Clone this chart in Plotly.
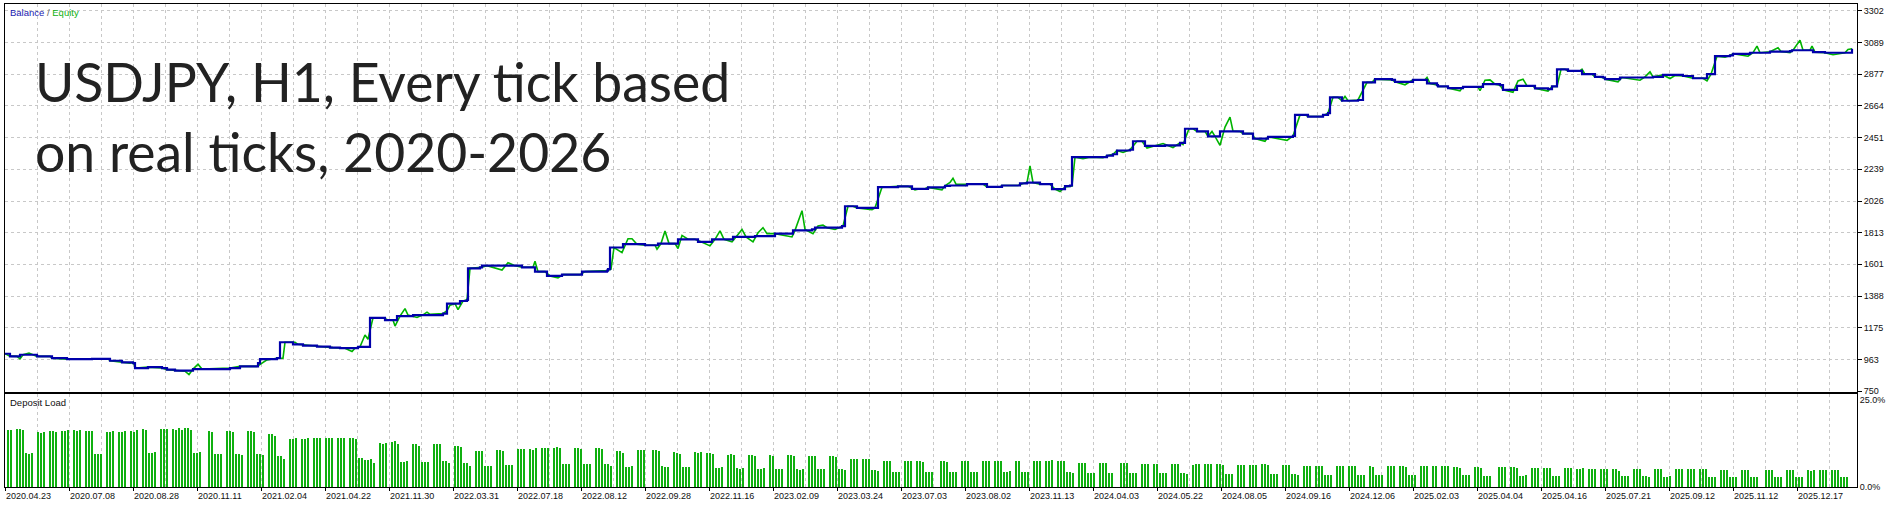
import plotly.graph_objects as go

# Strategy tester report: balance / equity and deposit load per deal

DATES = [
    "2020.04.23", "2020.07.08", "2020.08.28", "2020.11.11", "2021.02.04",
    "2021.04.22", "2021.11.30", "2022.03.31", "2022.07.18", "2022.08.12",
    "2022.09.28", "2022.11.16", "2023.02.09", "2023.03.24", "2023.07.03",
    "2023.08.02", "2023.11.13", "2024.04.03", "2024.05.22", "2024.08.05",
    "2024.09.16", "2024.12.06", "2025.02.03", "2025.04.04", "2025.04.16",
    "2025.07.21", "2025.09.12", "2025.11.12", "2025.12.17",
]

Y_TICKS = [750, 963, 1175, 1388, 1601, 1813, 2026, 2239, 2451, 2664, 2877, 3089, 3302]

BALANCE_X = [
    0, 5, 15, 32, 47, 62, 87, 105, 117, 128, 130, 143, 157, 162, 170, 188, 225, 235,
    253, 255, 272, 275, 288, 298, 312, 325, 335, 353, 365, 380, 392, 408, 438, 442,
    455, 462, 463, 475, 477, 517, 530, 542, 557, 577, 602, 603, 605, 618, 640, 653,
    673, 693, 707, 728, 750, 770, 788, 807, 810, 837, 840, 852, 873, 893, 907, 923,
    940, 945, 962, 982, 997, 1015, 1022, 1035, 1047, 1060, 1065, 1067, 1102, 1108,
    1112, 1125, 1128, 1140, 1160, 1175, 1180, 1192, 1203, 1215, 1238, 1248, 1263,
    1288, 1290, 1303, 1318, 1323, 1325, 1337, 1353, 1358, 1370, 1387, 1390, 1408,
    1422, 1432, 1433, 1443, 1458, 1478, 1495, 1498, 1512, 1530, 1543, 1547, 1552,
    1563, 1577, 1590, 1598, 1600, 1615, 1648, 1658, 1678, 1688, 1702, 1710, 1725,
    1728, 1745, 1765, 1785, 1787, 1808, 1820, 1847,
]
BALANCE_Y = [
    1001, 983, 994, 983, 971, 965, 967, 954, 943, 938, 905, 911, 905, 894, 888, 898, 905, 916,
    938, 965, 971, 1078, 1064, 1056, 1049, 1042, 1038, 1047, 1242, 1227, 1253, 1260, 1270, 1337,
    1355, 1363, 1574, 1581, 1592, 1581, 1552, 1523, 1532, 1552, 1559, 1569, 1714, 1736, 1729, 1740,
    1769, 1752, 1769, 1785, 1791, 1807, 1829, 1835, 1847, 1858, 1991, 1980, 2119, 2124, 2108, 2117,
    2128, 2130, 2139, 2121, 2130, 2144, 2150, 2139, 2106, 2126, 2130, 2320, 2330, 2340,
    2365, 2370, 2427, 2396, 2400, 2416, 2511, 2493, 2460, 2493, 2478, 2445, 2456,
    2463, 2604, 2593, 2604, 2616, 2722, 2699, 2704, 2822, 2844, 2839, 2826, 2839,
    2815, 2804, 2795, 2784, 2792, 2810, 2804, 2772, 2799, 2782, 2777, 2795, 2910,
    2899, 2877, 2859, 2855, 2844, 2855, 2859, 2872, 2865, 2850, 2877, 2998, 3003,
    3014, 3021, 3028, 3032, 3038, 3025, 3021, 3048,
]

EQUITY_X = [
    0, 5, 12, 15, 18, 24, 28, 32, 45, 47, 62, 85, 87, 103, 105, 117, 125, 128, 131, 143,
    157, 162, 170, 180, 184, 188, 193, 197, 225, 235, 252, 257, 262, 272, 278, 280, 290,
    293, 303, 315, 328, 340, 347, 350, 355, 360, 363, 368, 378, 383, 388, 390, 395, 400,
    403, 412, 418, 422, 425, 438, 442, 445, 450, 453, 458, 462, 465, 477, 482, 497, 503,
    510, 517, 528, 530, 533, 540, 545, 553, 558, 575, 580, 602, 606, 609, 617, 623, 627,
    632, 640, 650, 652, 656, 660, 664, 670, 673, 677, 683, 690, 696, 705, 710, 715, 719,
    727, 731, 737, 741, 748, 753, 758, 762, 770, 787, 790, 797, 800, 808, 813, 818, 822,
    830, 838, 843, 848, 852, 867, 870, 877, 893, 903, 910, 915, 920, 923, 937, 940, 945,
    948, 951, 962, 978, 982, 995, 997, 1013, 1018, 1022, 1025, 1028, 1035, 1045, 1050,
    1055, 1060, 1067, 1070, 1078, 1085, 1098, 1102, 1108, 1112, 1118, 1125, 1132, 1137,
    1142, 1158, 1162, 1168, 1175, 1178, 1184, 1188, 1192, 1200, 1203, 1207, 1210, 1215,
    1220, 1225, 1228, 1235, 1238, 1247, 1250, 1260, 1263, 1282, 1288, 1295, 1300, 1303,
    1317, 1323, 1328, 1333, 1337, 1340, 1343, 1353, 1362, 1367, 1370, 1387, 1390, 1400,
    1408, 1420, 1422, 1425, 1432, 1433, 1442, 1443, 1455, 1458, 1473, 1475, 1480, 1485,
    1490, 1495, 1498, 1508, 1513, 1518, 1522, 1528, 1530, 1543, 1547, 1552, 1556, 1560,
    1563, 1575, 1577, 1580, 1587, 1590, 1598, 1600, 1613, 1617, 1635, 1640, 1645, 1648,
    1658, 1665, 1670, 1678, 1688, 1698, 1702, 1706, 1712, 1720, 1725, 1728, 1743, 1748,
    1752, 1755, 1765, 1773, 1776, 1785, 1788, 1795, 1798, 1805, 1807, 1810, 1820, 1828,
    1840, 1843, 1847,
]
EQUITY_Y = [
    1001, 985, 983, 967, 994, 1005, 994, 983, 983, 971, 965, 965, 967, 967, 954, 943, 938, 943, 905, 911,
    905, 894, 888, 884, 861, 898, 931, 898, 905, 916, 916, 938, 960, 971, 971, 1078, 1078,
    1064, 1056, 1049, 1042, 1038, 1016, 1038, 1047, 1127, 1098, 1242, 1242, 1227, 1227, 1187, 1253, 1304,
    1260, 1244, 1262, 1280, 1265, 1270, 1290, 1327, 1337, 1297, 1355, 1363, 1574, 1581, 1592, 1563, 1612,
    1592, 1581, 1581, 1621, 1552, 1552, 1523, 1510, 1532, 1532, 1552, 1559, 1569, 1714, 1680, 1773, 1773,
    1736, 1729, 1729, 1702, 1740, 1825, 1740, 1740, 1707, 1795, 1769, 1769, 1752, 1725, 1769, 1825, 1769,
    1752, 1785, 1835, 1785, 1752, 1813, 1847, 1807, 1807, 1785, 1829, 1961, 1835, 1807, 1858, 1865, 1847,
    1835, 1858, 1991, 1991, 1980, 1968, 1980, 2119, 2124, 2124, 2101, 2108, 2108, 2117, 2101, 2128, 2150,
    2179, 2139, 2139, 2139, 2121, 2121, 2130, 2130, 2144, 2150, 2261, 2150, 2139, 2139, 2106,
    2090, 2120, 2126, 2320, 2310, 2320, 2316, 2330, 2340, 2365, 2352, 2370, 2427, 2427,
    2382, 2412, 2400, 2385, 2416, 2405, 2511, 2511, 2493, 2493, 2460, 2493, 2460, 2400,
    2522, 2589, 2495, 2493, 2478, 2478, 2445, 2427, 2456, 2433, 2463, 2604, 2604, 2593,
    2593, 2616, 2722, 2722, 2699, 2728, 2699, 2704, 2822, 2822, 2844, 2839, 2826, 2806,
    2839, 2840, 2855, 2815, 2804, 2795, 2795, 2784, 2766, 2792, 2792, 2766, 2837, 2839,
    2810, 2804, 2772, 2755, 2832, 2844, 2799, 2799, 2782, 2764, 2795, 2795, 2910, 2910,
    2899, 2899, 2910, 2877, 2877, 2859, 2855, 2844, 2826, 2855, 2837, 2859, 2893, 2859,
    2872, 2848, 2868, 2865, 2850, 2850, 2832, 2877, 2998, 2992, 3003, 3014, 2998, 3021,
    3065, 3021, 3028, 3054, 3030, 3021, 3038, 3105, 3038, 3038, 3065, 3025, 3021, 3008,
    3021, 3043, 3048,
]

# deposit load, percent, one value per deal slot (0 = no bar)
LOAD = [
    16.5, 16.6, 0, 16.7, 16.9, 16.5, 9.8, 9.6, 9.8, 0,
    15.8, 15.6, 15.8, 0, 16.1, 16.1, 15.8, 0, 16.1, 16.1,
    16.4, 0, 16.4, 16.2, 16.4, 0, 16.1, 16.1, 16.1, 9.6,
    9.6, 9.6, 0, 15.8, 15.8, 16.1, 0, 15.8, 15.8, 16.1,
    0, 16.1, 15.8, 16.5, 0, 16.8, 16.5, 9.9, 9.9, 10.2,
    0, 16.7, 16.8, 16.8, 0, 16.8, 16.5, 17.0, 16.5, 17.0,
    17.2, 16.5, 10.0, 9.8, 10.2, 0, 0, 16.1, 15.8, 9.6,
    9.6, 9.6, 0, 16.1, 16.1, 15.8, 9.6, 9.6, 9.2, 0,
    16.1, 16.1, 15.8, 9.6, 9.6, 9.3, 0, 15.3, 15.4, 14.9,
    9.0, 9.0, 8.2, 0, 13.9, 13.9, 14.1, 0, 13.9, 13.9,
    14.1, 0, 14.1, 14.1, 14.1, 0, 14.1, 14.1, 14.1, 0,
    14.1, 14.1, 14.1, 0, 14.1, 14.3, 13.9, 8.5, 8.5, 7.9,
    7.9, 8.2, 7.1, 0, 12.7, 12.4, 12.7, 0, 13.0, 13.3,
    12.4, 7.3, 7.3, 7.6, 0, 12.4, 12.4, 12.0, 7.3, 7.3,
    7.3, 0, 12.4, 12.4, 12.4, 7.6, 7.6, 7.1, 0, 11.8,
    12.0, 11.7, 7.1, 7.1, 6.2, 0, 10.4, 10.4, 10.4, 6.2,
    6.2, 6.2, 0, 10.7, 10.7, 10.4, 6.5, 6.5, 6.5, 0,
    11.0, 11.0, 11.0, 0, 11.0, 10.7, 11.3, 0, 11.3, 11.3,
    11.3, 0, 11.3, 11.6, 11.3, 6.8, 6.8, 6.8, 0, 11.3,
    11.3, 11.0, 6.7, 6.7, 6.7, 0, 11.3, 11.3, 11.0, 6.8,
    6.8, 6.2, 0, 10.4, 10.4, 10.0, 5.9, 5.9, 6.2, 0,
    10.7, 10.7, 10.7, 0, 0, 10.7, 10.7, 10.4, 6.2, 5.9,
    5.9, 0, 10.2, 10.0, 9.7, 5.9, 5.9, 5.9, 0, 10.2,
    10.0, 10.2, 0, 9.9, 9.9, 9.5, 5.7, 5.7, 5.9, 0,
    9.3, 9.5, 9.3, 5.5, 5.4, 5.5, 0, 9.3, 9.3, 9.0,
    5.3, 5.3, 5.5, 0, 9.3, 9.0, 5.3, 5.3, 5.3, 0,
    9.3, 9.3, 9.0, 5.3, 5.0, 5.3, 0, 9.0, 9.0, 9.0,
    5.3, 5.3, 5.3, 0, 9.0, 9.0, 8.7, 5.3, 5.3, 5.0,
    0, 8.1, 8.1, 8.1, 0, 8.1, 8.1, 8.1, 5.0, 5.0,
    4.8, 0, 7.6, 7.6, 7.6, 4.5, 4.5, 4.5, 0, 7.6,
    7.6, 7.6, 0, 7.6, 7.6, 7.3, 4.5, 4.5, 4.5, 0,
    0, 7.6, 7.6, 7.3, 4.5, 4.5, 4.5, 0, 7.6, 7.6,
    7.6, 4.5, 4.5, 4.5, 0, 7.6, 7.6, 7.6, 0, 7.6,
    7.6, 7.6, 4.5, 4.5, 4.7, 0, 7.6, 7.6, 4.5, 4.5,
    4.5, 0, 7.6, 7.6, 7.6, 0, 7.6, 7.6, 7.9, 0,
    7.6, 7.6, 7.6, 4.5, 4.5, 4.2, 0, 7.0, 7.0, 7.0,
    4.2, 4.2, 4.2, 0, 7.0, 7.0, 7.0, 4.2, 4.2, 0,
    0, 7.0, 7.0, 7.0, 4.2, 4.2, 4.2, 0, 6.8, 6.8,
    6.8, 0, 6.8, 6.8, 4.2, 4.2, 4.2, 0, 6.8, 6.8,
    6.8, 4.2, 4.2, 3.9, 0, 6.5, 6.8, 6.8, 0, 6.8,
    6.8, 6.8, 0, 6.8, 6.8, 6.5, 3.9, 3.9, 3.9, 0,
    6.5, 6.5, 6.5, 0, 6.5, 6.5, 6.5, 0, 6.8, 6.8,
    6.5, 3.9, 3.9, 3.9, 0, 6.5, 6.5, 6.5, 3.9, 3.9,
    3.7, 0, 6.2, 6.2, 6.2, 0, 6.2, 6.2, 6.2, 3.7,
    3.7, 3.7, 0, 6.2, 6.2, 6.2, 0, 6.2, 6.2, 6.2,
    3.7, 3.7, 3.7, 0, 6.2, 5.9, 3.7, 3.7, 3.7, 0,
    6.2, 6.2, 6.2, 0, 6.2, 6.2, 5.9, 3.7, 3.7, 3.7,
    0, 6.2, 6.2, 6.2, 0, 6.2, 6.2, 0, 6.2, 6.2,
    6.2, 0, 5.9, 5.9, 5.5, 3.7, 3.7, 3.7, 0, 5.9,
    5.9, 5.5, 3.4, 3.4, 3.4, 0, 0, 5.9, 5.9, 5.9,
    0, 5.9, 5.9, 5.5, 3.4, 3.4, 3.7, 0, 5.5, 5.5,
    5.5, 0, 5.5, 5.5, 5.5, 3.4, 3.4, 3.4, 0, 5.5,
    5.5, 5.5, 0, 5.3, 5.3, 5.5, 0, 5.3, 5.3, 5.3,
    0, 5.3, 5.3, 5.3, 0, 5.3, 5.3, 4.8, 3.4, 3.4,
    3.4, 0, 5.3, 5.3, 5.3, 3.4, 3.4, 3.1, 0, 5.3,
    5.3, 5.3, 3.1, 3.1, 3.4, 0, 5.3, 5.3, 5.3, 0,
    5.3, 5.3, 5.3, 0, 5.3, 5.3, 5.3, 3.1, 3.1, 3.1,
    0, 5.0, 5.0, 5.0, 3.1, 3.1, 3.1, 0, 5.0, 5.0,
    5.0, 3.1, 3.1, 3.1, 0, 0, 5.0, 5.0, 5.0, 3.1,
    3.1, 3.1, 0, 5.0, 5.0, 5.0, 3.1, 3.1, 3.1, 0,
    5.0, 4.7, 5.0, 0, 5.0, 5.0, 5.0, 0, 5.0, 5.0,
    5.0, 3.1, 3.1, 3.1,
]

W, H = 1902, 509
BLUE = "#0000aa"
GREEN = "#00b400"
BAR_GREEN = "#10b010"
GRID = "#c8c8c8"
TICK_FONT = dict(family="Liberation Sans", size=9, color="#101010")

x_dom = [5 / W, 1857 / W]
main_dom = [1 - 395.5 / H, 1 - 4.5 / H]
load_dom = [1 - 492 / H, 1 - 397.5 / H]
x_range = [0, 1852]

fig = go.Figure()
fig.add_trace(go.Scatter(
    x=EQUITY_X, y=EQUITY_Y, mode="lines", name="Equity",
    line=dict(color=GREEN, width=1.6), xaxis="x", yaxis="y",
))
fig.add_trace(go.Scatter(
    x=BALANCE_X, y=BALANCE_Y, mode="lines", name="Balance",
    line=dict(color=BLUE, width=2.2, shape="hv"), xaxis="x", yaxis="y",
))
fig.add_trace(go.Bar(
    y=LOAD, x0=3.3, dx=3, width=2, name="Deposit Load",
    marker=dict(color=BAR_GREEN, line_width=0), xaxis="x2", yaxis="y2",
))

frame = dict(showline=True, mirror=True, linecolor="#000000", linewidth=1, zeroline=False)

fig.update_layout(
    width=W, height=H,
    margin=dict(l=0, r=0, t=0, b=0),
    paper_bgcolor="white", plot_bgcolor="white",
    showlegend=False, bargap=0,
    xaxis=dict(
        domain=x_dom, range=x_range, anchor="y", showticklabels=False, ticks="",
        tickmode="linear", tick0=0, dtick=32,
        showgrid=True, gridcolor=GRID, griddash="3px,3px", gridwidth=1, **frame,
    ),
    yaxis=dict(
        domain=main_dom, range=[746.7, 3345.2], anchor="x", side="right",
        tickmode="array", tickvals=Y_TICKS, ticks="outside", ticklen=4,
        tickcolor="#000000", tickfont=TICK_FONT,
        showgrid=True, gridcolor=GRID, griddash="3px,3px", gridwidth=1, **frame,
    ),
    xaxis2=dict(
        domain=x_dom, range=x_range, anchor="y2",
        tickmode="array", tickvals=[i * 64 for i in range(len(DATES))], ticktext=DATES,
        ticks="outside", ticklen=3, tickcolor="#000000", tickfont=TICK_FONT,
        ticklabelposition="outside right",
        showgrid=True, gridcolor=GRID, griddash="3px,3px", gridwidth=1,
        minor=dict(tickmode="linear", tick0=0, dtick=32, showgrid=True,
                   gridcolor=GRID, griddash="3px,3px", gridwidth=1, ticks=""),
        **frame,
    ),
    yaxis2=dict(
        domain=load_dom, range=[0, 26.8], anchor="x2", side="right",
        tickmode="array", tickvals=[0, 25], ticktext=["0.0%", "25.0%"],
        ticks="", tickfont=TICK_FONT, showgrid=False, **frame,
    ),
)

fig.add_annotation(
    xref="paper", yref="paper", x=8 / W, y=1 - 13 / H, xanchor="left", yanchor="middle",
    text="<span style='color:#1a1ab0'>Balance</span>"
         "<span style='color:#606060'> / </span>"
         "<span style='color:#10b010'>Equity</span>",
    showarrow=False, font=dict(family="Liberation Sans", size=9.5),
)
fig.add_annotation(
    xref="paper", yref="paper", x=8 / W, y=1 - 406 / H, xanchor="left", yanchor="middle",
    text="Deposit Load", showarrow=False,
    font=dict(family="Liberation Sans", size=9.5, color="#101010"),
)
fig.add_annotation(
    xref="paper", yref="paper", x=33 / W, y=1 - 47 / H, xanchor="left", yanchor="top",
    align="left", text="USDJPY, H1, Every tick based<br>on real ticks, 2020-2026",
    showarrow=False, font=dict(family="Lato", size=53.5, color="#222222"),
)

fig.write_html(
    "out.html",
    config={"displayModeBar": False},
    post_script="document.body.style.margin='0';document.body.style.overflow='hidden';",
)
